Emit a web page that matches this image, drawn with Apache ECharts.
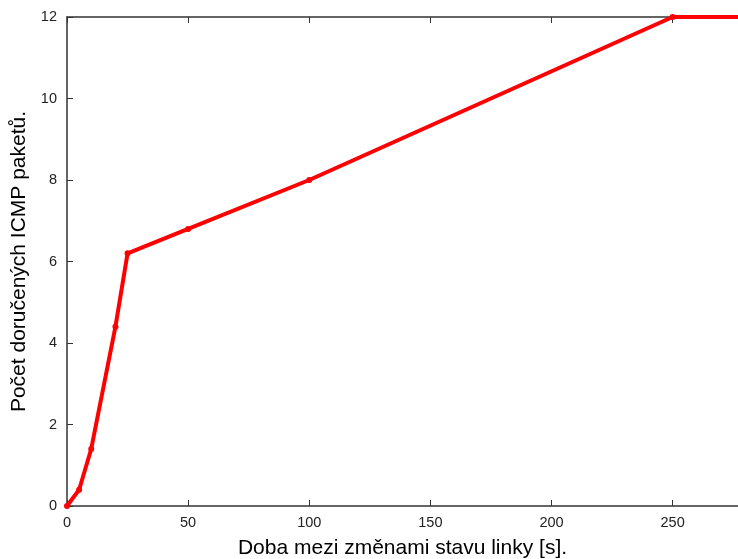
<!DOCTYPE html>
<html>
<head>
<meta charset="utf-8">
<script src="https://cdn.jsdelivr.net/npm/echarts@6/dist/echarts.min.js"></script>
<style>
  html, body { margin: 0; padding: 0; background: #fff; }
  #chart { width: 738px; height: 559px; }
</style>
</head>
<body>
<div id="chart"></div>
<script>
// doba mezi zmenami [s] a pocet dorucenych paketu
var times = [0, 5, 10, 20, 25, 50, 100, 250, 300];
var packets = [0, 0.4, 1.4, 4.4, 6.2, 6.8, 8, 12, 12];
var xName = "Doba mezi změnami stavu linky [s].";
var yName = "Počet doručených ICMP paketů.";

var myChart = echarts.init(document.getElementById("chart"));

var axisColor = "#333";
var font = "Liberation Sans, Arial, sans-serif";

var option = {
  animation: false,
  grid: { left: 67, right: 0, top: 17, bottom: 53, outerBoundsMode: "none", containLabel: false },
  xAxis: [
    {
      type: "value",
      min: 0,
      max: 277,
      interval: 50,
      name: xName,
      nameLocation: "middle",
      nameGap: 32,
      nameTextStyle: { fontFamily: font, fontSize: 21, color: "#000" },
      axisLine: { lineStyle: { color: axisColor, width: 1.5 } },
      axisTick: { inside: true, length: 6, lineStyle: { color: axisColor } },
      axisLabel: { fontFamily: font, fontSize: 14.5, color: "#222", margin: 9, showMaxLabel: false },
      splitLine: { show: false }
    },
    {
      type: "value",
      position: "top",
      min: 0,
      max: 277,
      interval: 50,
      axisLine: { show: true, lineStyle: { color: axisColor, width: 1.5 } },
      axisTick: { inside: true, length: 6, lineStyle: { color: axisColor } },
      axisLabel: { show: false },
      splitLine: { show: false }
    }
  ],
  yAxis: {
    type: "value",
    min: 0,
    max: 12,
    interval: 2,
    name: yName,
    nameLocation: "middle",
    nameGap: 31,
    nameTextStyle: { fontFamily: font, fontSize: 21, color: "#000" },
    axisLine: { show: true, lineStyle: { color: axisColor, width: 1.5 } },
    axisTick: { show: true, inside: true, length: 6, lineStyle: { color: axisColor } },
    axisLabel: { fontFamily: font, fontSize: 14.5, color: "#222", margin: 10 },
    splitLine: { show: false }
  },
  series: [
    {
      type: "line",
      data: times.map(function (t, i) { return [t, packets[i]]; }),
      symbol: "circle",
      symbolSize: 6,
      lineStyle: { color: "#ff0000", width: 4 },
      itemStyle: { color: "#ff0000" },
      clip: true
    }
  ]
};

myChart.setOption(option);
</script>
</body>
</html>
